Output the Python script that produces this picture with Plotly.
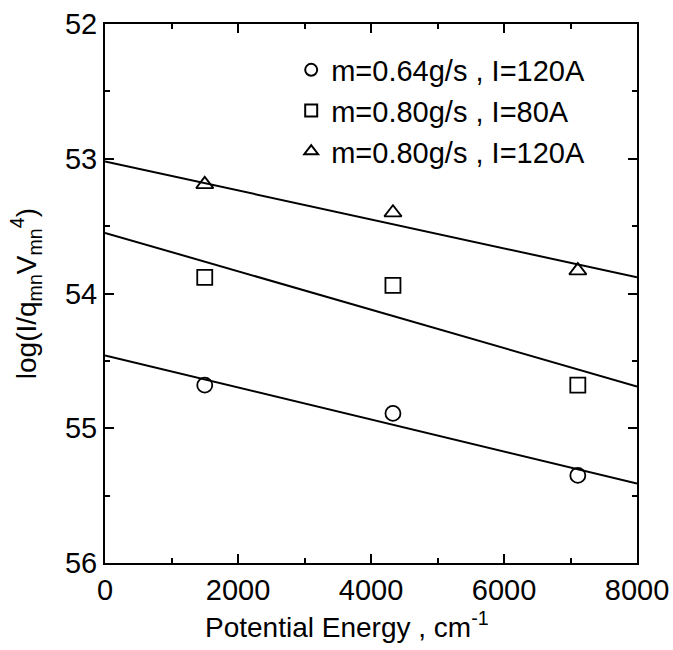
import plotly.graph_objects as go

# Data
energy = [1500, 4330, 7110]
circle_y = [54.68, 54.89, 55.35]    # m=0.64g/s, I=120A
square_y = [53.88, 53.94, 54.68]    # m=0.80g/s, I=80A
triangle_y = [53.19, 53.40, 53.83]  # m=0.80g/s, I=120A

fit_x = [0, 8000]
fit_circle = [54.46, 55.41]
fit_square = [53.55, 54.69]
fit_triangle = [53.02, 53.88]

names = ["m=0.64g/s , I=120A", "m=0.80g/s , I=80A", "m=0.80g/s , I=120A"]

FONT = "Liberation Sans, Arial, sans-serif"

fig = go.Figure()

for fy in [fit_circle, fit_square, fit_triangle]:
    fig.add_trace(go.Scatter(x=fit_x, y=fy, mode="lines",
                             line=dict(color="black", width=2),
                             showlegend=False, hoverinfo="skip"))

for ys, sym, nm in zip([circle_y, square_y, triangle_y],
                       ["circle-open", "square-open", "triangle-up-open"], names):
    fig.add_trace(go.Scatter(x=energy, y=ys, mode="markers", name=nm,
                             marker=dict(symbol=sym, size=15, color="black",
                                         line=dict(color="black", width=1.8))))

axis_common = dict(showline=True, linecolor="black", linewidth=2, mirror="ticks",
                   ticks="inside", ticklen=9, tickwidth=1.8, tickcolor="black",
                   showgrid=False, zeroline=False, automargin=False,
                   tickfont=dict(family=FONT, size=29, color="black"))

fig.update_xaxes(range=[0, 8000], dtick=2000, tick0=0,
                 minor=dict(ticks="inside", ticklen=5, dtick=1000, tickwidth=1.5, tickcolor="black"),
                 **axis_common)
fig.update_yaxes(range=[56, 52], dtick=1, tick0=52,
                 minor=dict(ticks="inside", ticklen=5, dtick=0.5, tickwidth=1.5, tickcolor="black"),
                 **axis_common)

fig.add_annotation(text="Potential Energy , cm<sup>-1</sup>", xref="paper", yref="paper",
                   x=0.455, y=-0.078, xanchor="center", yanchor="top", showarrow=False,
                   font=dict(family=FONT, size=28, color="black"))
fig.add_annotation(text="log(I/q<sub>mn</sub>V<sub>mn</sub><sup>4</sup>)", xref="paper", yref="paper",
                   x=-0.149, y=0.50, xanchor="center", yanchor="middle", showarrow=False,
                   textangle=-90, font=dict(family=FONT, size=28, color="black"))

fig.update_layout(
    width=673, height=650,
    margin=dict(l=105, r=36, t=24, b=87),
    paper_bgcolor="white", plot_bgcolor="white",
    font=dict(family=FONT, color="black"),
    legend=dict(x=0.35, y=0.962, xanchor="left", yanchor="top",
                bgcolor="rgba(0,0,0,0)", itemsizing="constant",
                font=dict(family=FONT, size=29, color="black"),
                tracegroupgap=0),
)

fig.write_html("out.html")
